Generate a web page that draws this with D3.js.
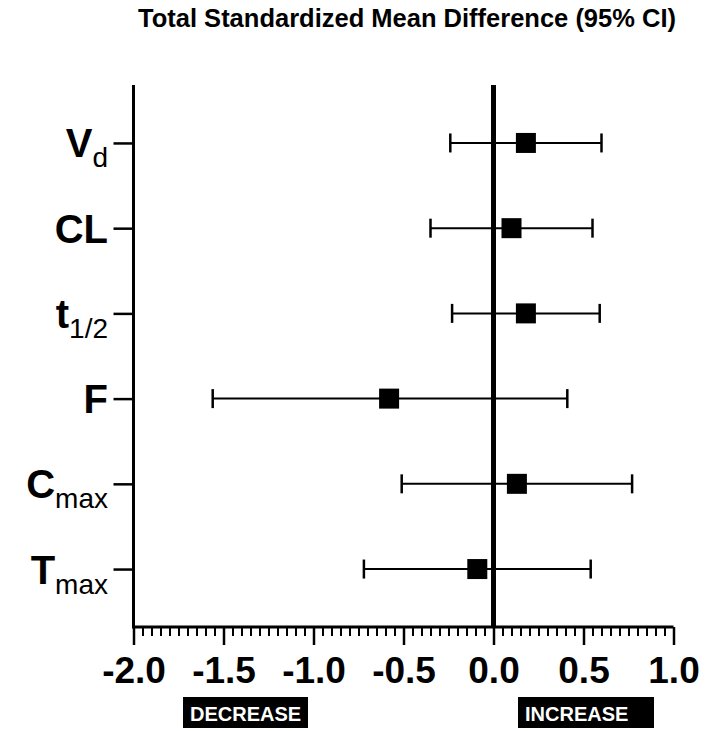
<!DOCTYPE html>
<html>
<head>
<meta charset="utf-8">
<script src="https://cdn.jsdelivr.net/npm/d3@7"></script>
<style>
  html, body { margin: 0; padding: 0; background: #fff; }
  svg { display: block; font-family: "Liberation Sans", Arial, sans-serif; }
</style>
</head>
<body>
<svg id="chart" width="709" height="731"></svg>
<script>
// Pharmacokinetic parameters (top to bottom) with their subscripts
const params     = ["Vd", "CL", "t1/2", "F", "Cmax", "Tmax"];
const mainLabels = ["V", "CL", "t", "F", "C", "T"];
const subLabels  = ["d", "", "1/2", "", "max", "max"];

// Standardized mean difference and 95% CI bounds
const smd   = [0.18, 0.10, 0.18, -0.58, 0.13, -0.09];
const ciLow = [-0.24, -0.35, -0.23, -1.56, -0.51, -0.72];
const ciHigh = [0.60, 0.55, 0.59, 0.41, 0.77, 0.54];

// Axis ticks
const majorTicks = [-2.0, -1.5, -1.0, -0.5, 0.0, 0.5, 1.0];
const tickLabels = ["-2.0", "-1.5", "-1.0", "-0.5", "0.0", "0.5", "1.0"];

const svg = d3.select("#chart");

const x = d3.scaleLinear().domain([-2, 1]).range([133.5, 673.5]);
const y = d3.scalePoint().domain(params).range([85, 627]).padding(0.68);
const plotTop = 85, plotBottom = 627;

// Title
svg.append("text")
  .attr("x", 407).attr("y", 27)
  .attr("text-anchor", "middle")
  .attr("font-size", 25.5).attr("font-weight", "bold")
  .attr("fill", "#000")
  .text("Total Standardized Mean Difference (95% CI)");

// Minor ticks on the x axis (every 0.05)
const minorTicks = d3.range(-2, 1.0001, 0.05).map(v => +v.toFixed(2));
const xMinor = svg.append("g")
  .attr("transform", `translate(0,${plotBottom})`)
  .call(d3.axisBottom(x).tickValues(minorTicks).tickSize(9).tickFormat(""));
xMinor.select(".domain").remove();
xMinor.selectAll(".tick line").attr("stroke", "#000").attr("stroke-width", 2);

// Major ticks with labels
const xMajor = svg.append("g")
  .attr("transform", `translate(0,${plotBottom})`)
  .call(d3.axisBottom(x).tickValues(majorTicks).tickSize(18).tickPadding(20)
        .tickFormat((d, i) => tickLabels[i]));
xMajor.select(".domain")
  .attr("d", `M${x(-2)},0H${x(1)}`)
  .attr("stroke", "#000").attr("stroke-width", 3);
xMajor.selectAll(".tick line").attr("stroke", "#000").attr("stroke-width", 2.5);
xMajor.selectAll(".tick text")
  .attr("font-family", "'Liberation Sans', Arial, sans-serif")
  .attr("font-size", 37).attr("font-weight", "bold").attr("fill", "#000")
  .attr("dy", null).attr("y", 56);

// Y axis with category ticks
const yAxis = svg.append("g")
  .attr("transform", `translate(${x(-2)},0)`)
  .call(d3.axisLeft(y).tickSize(20).tickFormat(""));
yAxis.select(".domain")
  .attr("d", `M0,${plotTop}V${plotBottom + 1.5}`)
  .attr("stroke", "#000").attr("stroke-width", 3);
yAxis.selectAll(".tick line").attr("stroke", "#000").attr("stroke-width", 2.5);

// Category labels with subscripts
params.forEach((p, i) => {
  const t = svg.append("text")
    .attr("x", 108).attr("y", y(p) + 14.5)
    .attr("text-anchor", "end")
    .attr("fill", "#000");
  t.append("tspan")
    .attr("font-size", 40).attr("font-weight", "bold")
    .text(mainLabels[i]);
  if (subLabels[i]) {
    t.append("tspan")
      .attr("font-size", 28).attr("font-weight", "normal")
      .attr("dy", 10)
      .text(subLabels[i]);
  }
});

// Line of no effect
svg.append("line")
  .attr("x1", x(0)).attr("x2", x(0))
  .attr("y1", plotTop).attr("y2", plotBottom)
  .attr("stroke", "#000").attr("stroke-width", 5);

// Confidence intervals and point estimates
const rows = params.map((p, i) => ({ p, m: smd[i], lo: ciLow[i], hi: ciHigh[i] }));
const g = svg.append("g");
const capH = 9.5, sq = 20;

g.selectAll(".ci").data(rows).join("line")
  .attr("x1", d => x(d.lo)).attr("x2", d => x(d.hi))
  .attr("y1", d => y(d.p)).attr("y2", d => y(d.p))
  .attr("stroke", "#000").attr("stroke-width", 2);
g.selectAll(".capL").data(rows).join("line")
  .attr("x1", d => x(d.lo)).attr("x2", d => x(d.lo))
  .attr("y1", d => y(d.p) - capH).attr("y2", d => y(d.p) + capH)
  .attr("stroke", "#000").attr("stroke-width", 2.5);
g.selectAll(".capR").data(rows).join("line")
  .attr("x1", d => x(d.hi)).attr("x2", d => x(d.hi))
  .attr("y1", d => y(d.p) - capH).attr("y2", d => y(d.p) + capH)
  .attr("stroke", "#000").attr("stroke-width", 2.5);
g.selectAll(".pt").data(rows).join("rect")
  .attr("x", d => x(d.m) - sq / 2).attr("y", d => y(d.p) - sq / 2)
  .attr("width", sq).attr("height", sq)
  .attr("fill", "#000");

// Direction boxes below the axis
const dirs = [
  { text: "DECREASE", x0: 183, x1: 308 },
  { text: "INCREASE", x0: 518, x1: 654 }
];
dirs.forEach(d => {
  svg.append("rect")
    .attr("x", d.x0).attr("y", 697)
    .attr("width", d.x1 - d.x0).attr("height", 31)
    .attr("fill", "#000");
  svg.append("text")
    .attr("x", d.x0 + 7).attr("y", 721)
    .attr("font-size", 20).attr("font-weight", "bold")
    .attr("fill", "#fff")
    .text(d.text);
});
</script>
</body>
</html>
